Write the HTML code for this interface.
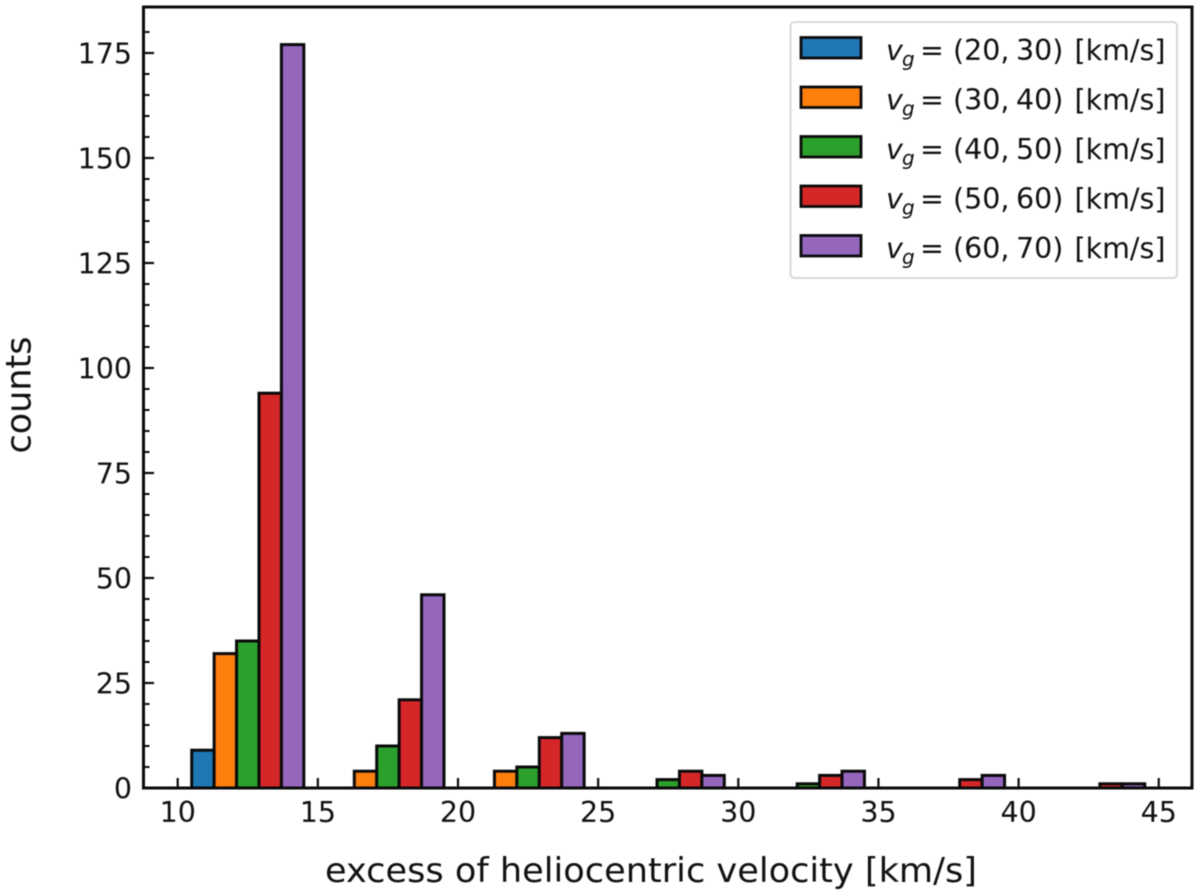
<!DOCTYPE html>
<html lang="en">
<head>
<meta charset="utf-8">
<title>Excess of heliocentric velocity histogram</title>
<style>
html,body{margin:0;padding:0;background:#fff;}
svg{display:block;font-family:"DejaVu Sans","Liberation Sans",sans-serif;fill:#111;filter:blur(0.55px);}
</style>
</head>
<body>
<svg id="chart" xmlns="http://www.w3.org/2000/svg" width="1200" height="896" viewBox="0 0 1200 896">
  <rect x="143.5" y="7" width="1048.5" height="781" fill="#fff"></rect>
  <g id="bars"></g>
  <g id="ticks"></g>
  <rect x="143.5" y="7" width="1048.5" height="781" fill="none" stroke="#0a0a0a" stroke-width="3"></rect>
  <g id="labels"></g>
  <text x="651" y="882" font-size="33.5" text-anchor="middle" textLength="652" lengthAdjust="spacingAndGlyphs">excess of heliocentric velocity [km/s]</text>
  <text transform="translate(30.5,395) rotate(-90)" font-size="35" text-anchor="middle">counts</text>
  <g id="legend">
    <rect x="790.5" y="22" width="386.5" height="256" rx="4" ry="4" fill="#fff" stroke="#d8d8d8" stroke-width="2"></rect>
  </g>
</svg>
<script>
var binStarts = [10.5, 15.5, 20.5, 25.5, 30.5, 35.5, 40.5];
var barWidth = 0.8;
var seriesLow = ["20", "30", "40", "50", "60"];
var seriesHigh = ["30", "40", "50", "60", "70"];
var seriesColors = ["#1f77b4", "#ff7f0e", "#2ca02c", "#d62728", "#9467bd"];
var counts2030 = [9, 0, 0, 0, 0, 0, 0];
var counts3040 = [32, 4, 4, 0, 0, 0, 0];
var counts4050 = [35, 10, 5, 2, 1, 0, 0];
var counts5060 = [94, 21, 12, 4, 3, 2, 1];
var counts6070 = [177, 46, 13, 3, 4, 3, 1];
var xTicks = [10, 15, 20, 25, 30, 35, 40, 45];
var yTicks = [0, 25, 50, 75, 100, 125, 150, 175];
var yMinorTicks = [5, 10, 15, 20, 30, 35, 40, 45, 55, 60, 65, 70, 80, 85, 90, 95, 105, 110, 115, 120, 130, 135, 140, 145, 155, 160, 165, 170, 180];
var allSeries = [counts2030, counts3040, counts4050, counts5060, counts6070];

var NS = "http://www.w3.org/2000/svg";
function xScale(v) { return 177.7 + (v - 10) * 28.03; }
function yScale(v) { return 788 - v * 4.2; }
function make(tag, attrs, parent) {
  var el = document.createElementNS(NS, tag);
  for (var k in attrs) el.setAttribute(k, attrs[k]);
  parent.appendChild(el);
  return el;
}

var barsG = document.getElementById("bars");
allSeries.forEach(function (values, s) {
  values.forEach(function (value, b) {
    var left = xScale(binStarts[b] + s * barWidth);
    var right = xScale(binStarts[b] + (s + 1) * barWidth);
    var bar = make("rect", {
      x: left, y: yScale(value), width: right - left, height: yScale(0) - yScale(value),
      fill: seriesColors[s], stroke: "#0a0a0a", "stroke-width": value === 0 ? 2 : 3
    }, barsG);
    
    
  });
});

var ticksG = document.getElementById("ticks");
var labelsG = document.getElementById("labels");
xTicks.forEach(function (t) {
  var tick = make("line", { x1: xScale(t), x2: xScale(t), y1: 788, y2: 778, stroke: "#0a0a0a", "stroke-width": 2.2 }, ticksG);
  
  
  var label = make("text", { x: xScale(t), y: 822, "font-size": 28.5, "text-anchor": "middle" }, labelsG);
  label.textContent = String(t);
  
  
});
yTicks.forEach(function (t) {
  var tick = make("line", { x1: 143.5, x2: 154, y1: yScale(t), y2: yScale(t), stroke: "#0a0a0a", "stroke-width": 2.2 }, ticksG);
  
  
  var label = make("text", { x: 132, y: yScale(t) + 10.5, "font-size": 28.5, "text-anchor": "end" }, labelsG);
  label.textContent = String(t);
  
  
});
yMinorTicks.forEach(function (t) {
  var tick = make("line", { x1: 143.5, x2: 149.5, y1: yScale(t), y2: yScale(t), stroke: "#0a0a0a", "stroke-width": 2 }, ticksG);
  
  
});

var legendG = document.getElementById("legend");
seriesLow.forEach(function (low, i) {
  var rowTop = 37.5 + i * 49.5;
  var baseline = rowTop + 22.5;
  var swatch = make("rect", { x: 801, y: rowTop, width: 60, height: 20.5, fill: seriesColors[i], stroke: "#0a0a0a", "stroke-width": 2.8 }, legendG);
  
  
  var text = make("text", { x: 886, y: baseline, "font-size": 28.5 }, legendG);
  
  
  var v = make("tspan", { x: 886, y: baseline, "font-style": "italic" }, text);
  v.textContent = "v";
  var g = make("tspan", { x: 902, y: baseline + 6, "font-style": "italic", "font-size": 20 }, text);
  g.textContent = "g";
  var eq = make("tspan", { x: 920, y: baseline }, text);
  eq.textContent = "=";
  var open = make("tspan", { x: 953, y: baseline }, text);
  open.textContent = "(" + low + ",";
  var close = make("tspan", { x: 1016, y: baseline }, text);
  close.textContent = seriesHigh[i] + ")";
  var unit = make("tspan", { x: 1074.5, y: baseline }, text);
  unit.textContent = "[km/s]";
});
</script>
</body>
</html>
